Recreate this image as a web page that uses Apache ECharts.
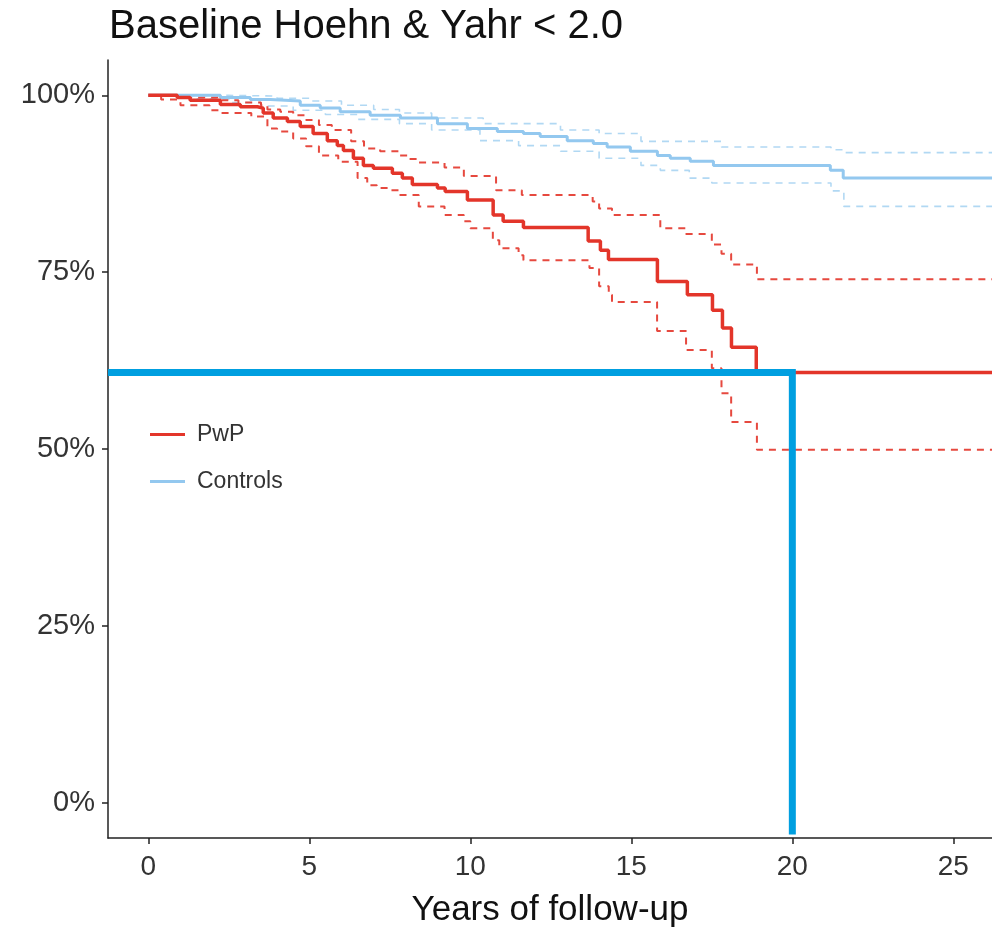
<!DOCTYPE html>
<html lang="en">
<head>
    <meta charset="UTF-8">
    <title>Baseline Hoehn & Yahr &lt; 2.0</title>
    <script src="https://cdn.jsdelivr.net/npm/echarts@6/dist/echarts.min.js"></script>
    <style>
        * {
            margin: 0;
            padding: 0;
            box-sizing: border-box;
        }

        body {
            background: #ffffff;
        }

        #chart {
            width: 992px;
            height: 929px;
        }
    </style>
</head>
<body>
    <div id="chart"></div>

    <script>
        // 刻度
        const xTicks = [0, 5, 10, 15, 20, 25];
        const yTicks = [0, 25, 50, 75, 100];

        // PwP 生存曲线 [年, %]
        const pwp = [[0, 100], [0.9, 99.7], [1.3, 99.3], [2.24, 98.7], [2.86, 98.4], [3.39, 98.2], [3.57, 97.5],
            [3.88, 96.8], [4.32, 96.3], [4.72, 95.6], [5.12, 94.6], [5.56, 93.6], [5.87, 92.9], [6.06, 92.2],
            [6.37, 91.1], [6.68, 90.1], [6.99, 89.7], [7.58, 89.0], [7.89, 88.3], [8.2, 87.4], [8.98, 86.9],
            [9.22, 86.4], [9.91, 85.2], [10.71, 83.1], [11.02, 82.2], [11.65, 81.3], [13.66, 79.4], [14.04, 78.1],
            [14.29, 76.8], [15.81, 73.7], [16.74, 71.8], [17.52, 69.6], [17.83, 67.1], [18.11, 64.4], [18.88, 60.8],
            [27, 60.8]];
        const pwpUpper = [[0, 100], [1.0, 99.7], [2.2, 99.3], [2.8, 99.0], [3.5, 98.6], [3.7, 98.0], [4.1, 97.7],
            [4.5, 97.2], [4.9, 96.5], [5.3, 95.8], [5.7, 95.1], [6.3, 93.5], [6.7, 92.5], [7.2, 92.1], [7.8, 91.5],
            [8.1, 91.0], [8.4, 90.5], [9.2, 89.8], [9.8, 88.6], [10.8, 86.6], [11.6, 85.9], [13.8, 85.0],
            [14.0, 84.0], [14.4, 83.1], [15.9, 81.2], [16.7, 80.4], [17.5, 78.9], [17.8, 77.6], [18.1, 76.1],
            [18.9, 74.0], [27, 74.0]];
        const pwpLower = [[0, 100], [0.4, 99.4], [1.0, 98.6], [1.9, 97.9], [2.2, 97.5], [3.2, 97.0], [3.7, 95.3],
            [4.0, 94.9], [4.5, 93.9], [4.9, 92.8], [5.3, 91.5], [5.9, 90.6], [6.5, 88.3], [6.8, 87.3], [7.1, 86.9],
            [7.5, 86.6], [7.8, 85.9], [8.4, 84.3], [9.2, 83.1], [9.8, 82.2], [10.0, 81.2], [10.7, 79.5],
            [10.9, 78.4], [11.5, 77.4], [11.65, 76.7], [13.7, 75.6], [14.0, 73.0], [14.3, 71.8], [14.4, 70.8],
            [15.8, 66.7], [16.7, 64.0], [17.5, 61.4], [17.8, 57.9], [18.1, 53.8], [18.9, 49.9], [27, 49.9]];

        // Controls 生存曲线 [年, %]
        const controls = [[0, 100], [2.24, 99.7], [3.17, 99.4], [3.79, 99.2], [4.72, 98.6], [5.34, 98.2],
            [5.96, 97.7], [6.89, 97.2], [7.83, 96.8], [8.98, 96.0], [9.91, 95.3], [10.84, 94.9], [11.65, 94.6],
            [12.17, 94.2], [13.01, 93.6], [13.82, 93.2], [14.25, 92.7], [14.97, 92.1], [15.81, 91.5], [16.21, 91.1],
            [16.83, 90.7], [17.55, 90.1], [21.18, 89.4], [21.58, 88.3], [27, 88.3]];
        const controlsUpper = [[0, 100], [2.5, 99.9], [4.0, 99.6], [5.0, 99.2], [6.0, 98.6], [7.0, 98.0],
            [7.8, 97.5], [8.8, 96.8], [10.4, 96.0], [12.8, 95.1], [14.0, 94.6], [15.3, 93.5], [17.8, 92.7],
            [21.2, 92.3], [21.6, 91.9], [27, 91.9]];
        const controlsLower = [[0, 100], [1.5, 99.5], [2.5, 99.0], [3.5, 98.5], [4.5, 97.9], [5.5, 97.3],
            [6.5, 96.6], [7.8, 96.0], [8.8, 95.1], [10.3, 93.6], [11.5, 92.9], [12.8, 92.1], [14.0, 91.1],
            [15.3, 90.1], [15.9, 89.4], [16.8, 88.3], [17.5, 87.6], [21.2, 86.5], [21.6, 84.3], [27, 84.3]];

        // 标注线：20 年处的水平
        const refYear = 20;
        const refLevel = 60.8;
        const refPath = [[-1.25, refLevel], [refYear, refLevel], [refYear, -4.5]];

        const red = '#e3352a';
        const blue = '#93c8ef';
        const font = "'Liberation Sans', Arial, sans-serif";

        function survLine(name, data, color, width, dashed) {
            return {
                name: name,
                type: 'line',
                step: 'end',
                data: data,
                symbol: 'none',
                silent: true,
                z: dashed ? 2 : 3,
                itemStyle: { color: color },
                lineStyle: {
                    color: color,
                    width: width,
                    type: dashed ? [7, 6] : 'solid',
                    opacity: dashed ? 0.9 : 1
                }
            };
        }

        const chart = echarts.init(document.getElementById('chart'));
        chart.setOption({
            animation: false,
            title: {
                text: 'Baseline Hoehn & Yahr < 2.0',
                left: 104,
                top: 2,
                textStyle: {
                    fontFamily: font,
                    fontSize: 40,
                    fontWeight: 'normal',
                    color: '#111'
                }
            },
            legend: {
                data: ['PwP', 'Controls'],
                orient: 'vertical',
                left: 145,
                top: 418,
                itemGap: 24,
                itemWidth: 35,
                itemHeight: 3,
                icon: 'rect',
                textStyle: {
                    fontFamily: font,
                    fontSize: 23,
                    color: '#333',
                    padding: [0, 0, 0, 7]
                }
            },
            grid: {
                left: 108,
                right: 0,
                top: 60,
                bottom: 91,
                outerBoundsMode: 'none'
            },
            xAxis: {
                type: 'value',
                min: -1.25,
                max: 26.2,
                name: 'Years of follow-up',
                nameLocation: 'middle',
                nameGap: 55,
                nameTextStyle: {
                    fontFamily: font,
                    fontSize: 35,
                    color: '#111'
                },
                splitLine: { show: false },
                axisLine: { onZero: false, lineStyle: { color: '#222', width: 1.5 } },
                axisTick: { customValues: xTicks, length: 6, lineStyle: { color: '#222', width: 1.5 } },
                axisLabel: {
                    customValues: xTicks,
                    fontFamily: font,
                    fontSize: 28,
                    color: '#333',
                    margin: 15
                }
            },
            yAxis: {
                type: 'value',
                min: -5,
                max: 105,
                splitLine: { show: false },
                axisLine: { show: true, onZero: false, lineStyle: { color: '#222', width: 1.5 } },
                axisTick: { show: true, customValues: yTicks, length: 6, lineStyle: { color: '#222', width: 1.5 } },
                axisLabel: {
                    customValues: yTicks,
                    formatter: '{value}%',
                    fontFamily: font,
                    fontSize: 29,
                    color: '#333',
                    margin: 13
                }
            },
            series: [
                survLine('Controls CI upper', controlsUpper, '#a9d4f2', 1.6, true),
                survLine('Controls CI lower', controlsLower, '#a9d4f2', 1.6, true),
                survLine('PwP CI upper', pwpUpper, red, 2, true),
                survLine('PwP CI lower', pwpLower, red, 2, true),
                survLine('Controls', controls, blue, 3, false),
                survLine('PwP', pwp, red, 3.5, false),
                {
                    name: 'ref',
                    type: 'line',
                    data: refPath,
                    symbol: 'none',
                    silent: true,
                    z: 5,
                    lineStyle: { color: '#009fe0', width: 7, join: 'miter', cap: 'butt' }
                }
            ]
        });

        window.addEventListener('resize', function() {
            chart.resize();
        });
    </script>
</body>
</html>
